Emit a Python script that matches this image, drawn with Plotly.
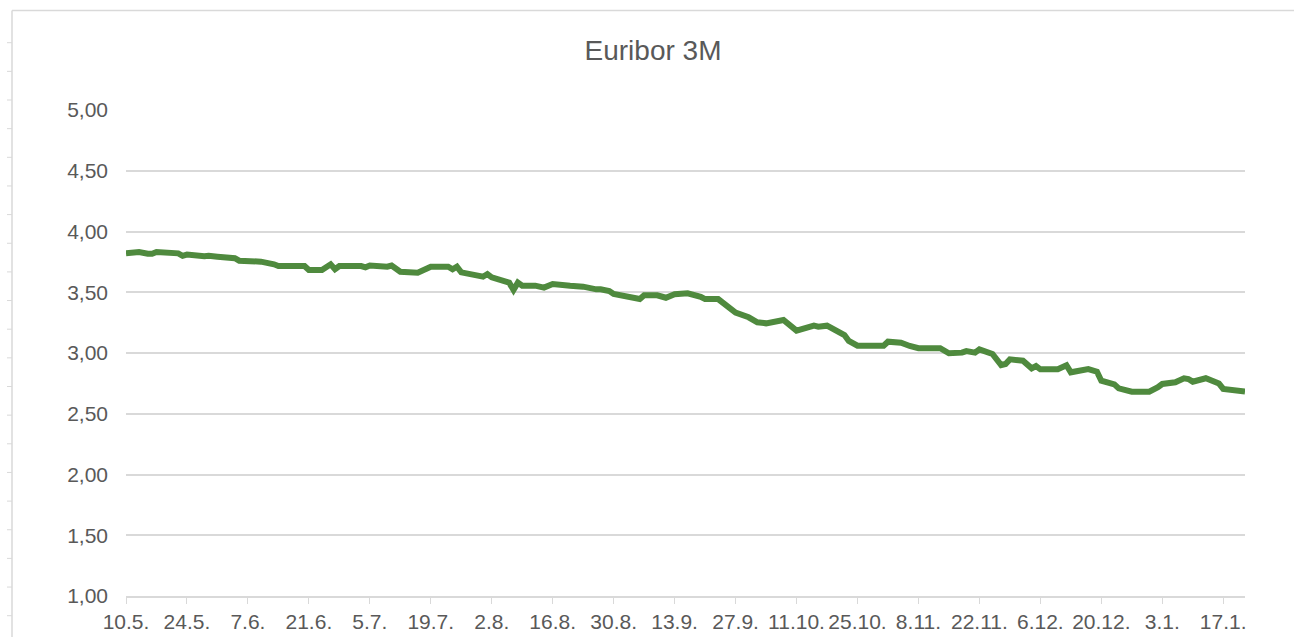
import plotly.graph_objects as go

# ---- data ----
dates = [
    "2024-05-10", "2024-05-13", "2024-05-15", "2024-05-16", "2024-05-17",
    "2024-05-22", "2024-05-23", "2024-05-24", "2024-05-28", "2024-05-29",
    "2024-05-31", "2024-06-04", "2024-06-05", "2024-06-10", "2024-06-13",
    "2024-06-14", "2024-06-20", "2024-06-21", "2024-06-24", "2024-06-26",
    "2024-06-27", "2024-06-28", "2024-07-03", "2024-07-04", "2024-07-05",
    "2024-07-09", "2024-07-10", "2024-07-12", "2024-07-16", "2024-07-19",
    "2024-07-23", "2024-07-24", "2024-07-25", "2024-07-26", "2024-07-31",
    "2024-08-01", "2024-08-02", "2024-08-06", "2024-08-07", "2024-08-08",
    "2024-08-09", "2024-08-12", "2024-08-14", "2024-08-16", "2024-08-20",
    "2024-08-23", "2024-08-26", "2024-08-27", "2024-08-29", "2024-08-30",
    "2024-09-05", "2024-09-06", "2024-09-09", "2024-09-11", "2024-09-13",
    "2024-09-16", "2024-09-19", "2024-09-20", "2024-09-23", "2024-09-26",
    "2024-09-27", "2024-09-30", "2024-10-02", "2024-10-04", "2024-10-08",
    "2024-10-11", "2024-10-15", "2024-10-16", "2024-10-18", "2024-10-22",
    "2024-10-23", "2024-10-25", "2024-10-31", "2024-11-01", "2024-11-04",
    "2024-11-06", "2024-11-08", "2024-11-13", "2024-11-14", "2024-11-15",
    "2024-11-18", "2024-11-19", "2024-11-21", "2024-11-22", "2024-11-25",
    "2024-11-27", "2024-11-28", "2024-11-29", "2024-12-02", "2024-12-04",
    "2024-12-05", "2024-12-06", "2024-12-10", "2024-12-12", "2024-12-13",
    "2024-12-17", "2024-12-19", "2024-12-20", "2024-12-23", "2024-12-24",
    "2024-12-27", "2024-12-31", "2025-01-02", "2025-01-03", "2025-01-06",
    "2025-01-08", "2025-01-09", "2025-01-10", "2025-01-13", "2025-01-15",
    "2025-01-16", "2025-01-17", "2025-01-20", "2025-01-22",
]
euribor_3m = [
    3.821, 3.831, 3.817, 3.817, 3.831,
    3.820, 3.800, 3.810, 3.796, 3.800,
    3.793, 3.780, 3.760, 3.752, 3.730,
    3.716, 3.716, 3.683, 3.683, 3.730,
    3.690, 3.716, 3.716, 3.705, 3.720,
    3.710, 3.720, 3.669, 3.660, 3.710,
    3.710, 3.689, 3.710, 3.664, 3.628,
    3.650, 3.623, 3.579, 3.519, 3.579,
    3.554, 3.554, 3.538, 3.568, 3.554,
    3.546, 3.524, 3.524, 3.510, 3.486,
    3.444, 3.475, 3.475, 3.455, 3.483,
    3.491, 3.463, 3.444, 3.444, 3.360,
    3.332, 3.294, 3.253, 3.244, 3.272,
    3.184, 3.225, 3.217, 3.225, 3.148,
    3.099, 3.060, 3.060, 3.093, 3.085,
    3.058, 3.039, 3.039, 3.016, 2.998,
    3.003, 3.016, 3.003, 3.030, 2.992,
    2.901, 2.910, 2.948, 2.937, 2.874,
    2.893, 2.866, 2.866, 2.899, 2.841,
    2.868, 2.846, 2.772, 2.742, 2.709,
    2.682, 2.682, 2.718, 2.745, 2.759,
    2.792, 2.786, 2.764, 2.792, 2.756,
    2.750, 2.704, 2.690, 2.682,
]
title_text = "Euribor 3M"
x_range = ["2024-05-10", "2025-01-22"]
x_tick0 = "2024-05-10"
y_range = [1.0, 5.0]

# ---- layout geometry ----
W, H = 1294, 637
L, R, T, B = 126, 49, 110, 41
PW, PH = W - L - R, H - T - B

def px_x(px):
    return (px - L) / PW

def px_y(py):
    return (H - B - py) / PH

GRID = "#d9d9d9"
TXT = "#595959"
FONT = "Liberation Sans, Arial, sans-serif"

fig = go.Figure()
fig.add_trace(go.Scatter(
    x=dates, y=euribor_3m, mode="lines",
    line=dict(color="#4f8a3e", width=6),
    hoverinfo="x+y", showlegend=False,
))

# chart frame decoration (top and left border with small marks)
shapes = [
    dict(type="line", xref="paper", yref="paper",
         x0=px_x(12), x1=px_x(W + 5), y0=px_y(10.5), y1=px_y(10.5),
         line=dict(color=GRID, width=1.5)),
    dict(type="line", xref="paper", yref="paper",
         x0=px_x(12), x1=px_x(12), y0=px_y(10.5), y1=px_y(H + 5),
         line=dict(color=GRID, width=1.5)),
]
yy = 42.7
while yy < H:
    shapes.append(dict(type="line", xref="paper", yref="paper",
                       x0=px_x(7), x1=px_x(12), y0=px_y(yy), y1=px_y(yy),
                       line=dict(color=GRID, width=1)))
    yy += 28.65

fig.update_layout(
    width=W, height=H,
    margin=dict(l=L, r=R, t=T, b=B, pad=0, autoexpand=False),
    paper_bgcolor="white", plot_bgcolor="white",
    separators=", ",
    font=dict(family=FONT, color=TXT, size=21),
    title=dict(text=title_text, xref="container", yref="container",
               x=653 / W, y=1 - 50 / H, xanchor="center", yanchor="middle",
               font=dict(family=FONT, size=28, color=TXT)),
    shapes=shapes,
    xaxis=dict(
        type="date", range=x_range, tick0=x_tick0, dtick=14 * 86400000,
        tickformat="%-d.%-m.", ticks="outside", ticklen=6, tickcolor=GRID,
        tickwidth=1, showgrid=False, showline=True, linecolor=GRID,
        linewidth=1.5, tickfont=dict(size=21, color=TXT), zeroline=False,
        automargin=False,
    ),
    yaxis=dict(
        range=y_range, dtick=0.5, tick0=1, tickformat=".2f",
        showgrid=True, gridcolor=GRID, gridwidth=1.5, showline=False,
        zeroline=False, ticks="", ticklabelstandoff=17,
        tickfont=dict(size=21, color=TXT), automargin=False,
    ),
)

fig.write_html("out.html", config={"displayModeBar": False},
               post_script="document.body.style.margin='0';document.body.style.overflow='hidden';")
